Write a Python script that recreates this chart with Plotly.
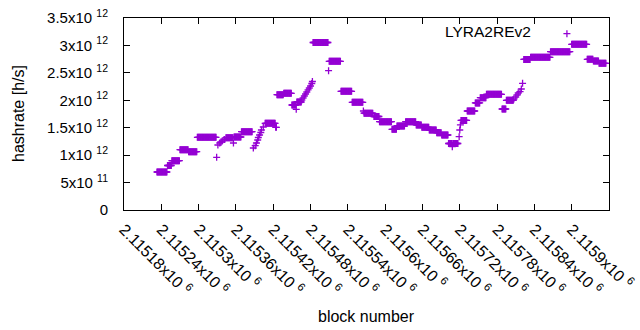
import numpy as np
import plotly.graph_objects as go

# runs of consecutive blocks sharing one hashrate value (value in units of 1e12 h/s)
run_first = [2115233, 2115250, 2115257, 2115270, 2115284, 2115298, 2115329, 2115331, 2115334, 2115336,
             2115338, 2115341, 2115344, 2115356, 2115357, 2115369, 2115388, 2115391, 2115393, 2115395,
             2115396, 2115398, 2115400, 2115401, 2115404, 2115407, 2115424, 2115426, 2115437, 2115450,
             2115457, 2115458, 2115466, 2115468, 2115470, 2115472, 2115474, 2115476, 2115478, 2115480,
             2115482, 2115483, 2115484, 2115509, 2115510, 2115529, 2115547, 2115565, 2115566, 2115582,
             2115591, 2115611, 2115619, 2115633, 2115650, 2115659, 2115671, 2115683, 2115691, 2115702,
             2115708, 2115709, 2115719, 2115720, 2115721, 2115722, 2115732, 2115745, 2115753, 2115763,
             2115788, 2115795, 2115807, 2115810, 2115812, 2115814, 2115817, 2115819, 2115821, 2115823,
             2115834, 2115866, 2115900, 2115925, 2115935, 2115944]
run_last = [2115249, 2115256, 2115269, 2115283, 2115297, 2115328, 2115329, 2115331, 2115334, 2115336,
            2115338, 2115342, 2115355, 2115356, 2115368, 2115386, 2115388, 2115391, 2115393, 2115395,
            2115396, 2115398, 2115400, 2115401, 2115404, 2115423, 2115425, 2115436, 2115449, 2115456,
            2115457, 2115465, 2115466, 2115468, 2115470, 2115472, 2115474, 2115476, 2115478, 2115480,
            2115482, 2115483, 2115508, 2115509, 2115528, 2115546, 2115564, 2115565, 2115580, 2115590,
            2115610, 2115618, 2115631, 2115649, 2115658, 2115670, 2115682, 2115690, 2115701, 2115707,
            2115708, 2115717, 2115719, 2115720, 2115721, 2115731, 2115744, 2115752, 2115762, 2115787,
            2115794, 2115806, 2115807, 2115810, 2115812, 2115814, 2115817, 2115819, 2115821, 2115833,
            2115865, 2115897, 2115924, 2115934, 2115943, 2115955]
run_value = [0.693, 0.811, 0.899, 1.099, 1.063, 1.325, 0.961, 1.185, 1.221, 1.240,
             1.258, 1.285, 1.318, 1.221, 1.331, 1.427, 1.130, 1.172, 1.221, 1.276,
             1.322, 1.367, 1.413, 1.458, 1.513, 1.580, 1.508, 2.102, 2.127, 1.914,
             1.836, 1.969, 2.005, 2.042, 2.078, 2.115, 2.151, 2.188, 2.224, 2.260,
             2.306, 2.342, 3.053, 2.539, 2.711, 2.164, 1.963, 1.805, 1.765, 1.704,
             1.610, 1.471, 1.531, 1.610, 1.550, 1.508, 1.458, 1.409, 1.367, 1.212,
             1.154, 1.212, 1.336, 1.458, 1.550, 1.632, 1.805, 1.951, 2.047, 2.109,
             1.841, 2.000, 2.023, 2.060, 2.096, 2.133, 2.157, 2.206, 2.310, 2.744,
             2.784, 2.886, 3.021, 2.747, 2.716, 2.674]

x_tickvals = [2115180, 2115240, 2115300, 2115360, 2115420, 2115480, 2115540,
              2115600, 2115660, 2115720, 2115780, 2115840, 2115900, 2115960]
x_ticktext = ["2.11518", "2.11524", "2.1153", "2.11536", "2.11542", "2.11548", "2.11554",
              "2.1156", "2.11566", "2.11572", "2.11578", "2.11584", "2.1159", "2.11596"]
y_tickvals = [0, 0.5e12, 1e12, 1.5e12, 2e12, 2.5e12, 3e12, 3.5e12]
y_mant = ["0", "5", "1", "1.5", "2", "2.5", "3", "3.5"]
y_exp = ["", "11", "12", "12", "12", "12", "12", "12"]

blocks, rates = [], []
for f, l, v in zip(run_first, run_last, run_value):
    for b in range(f, l + 1):
        blocks.append(b)
        rates.append(v * 1e12)

COLOR = "#9400d3"
FONT = "Liberation Sans, Arial, sans-serif"
MARKER = dict(symbol="cross-thin", size=5, color=COLOR, line=dict(width=1.3, color=COLOR))

fig = go.Figure()
fig.add_trace(go.Scatter(
    x=blocks, y=rates, mode="markers", name="LYRA2REv2", showlegend=False, marker=MARKER,
))
# key sample (symbol only; title drawn as annotation on its left, gnuplot style)
fig.add_trace(go.Scatter(
    x=[None], y=[None], mode="markers", name=" ", showlegend=True, marker=MARKER,
))

ytext = [m if e == "" else f"{m}x10 <sup>{e}</sup>" for m, e in zip(y_mant, y_exp)]
xtext = [f"{t}x10 <sup>6</sup>" for t in x_ticktext]

axis_common = dict(showline=True, linecolor="black", linewidth=1, mirror="ticks",
                   ticks="inside", ticklen=6, tickcolor="black", showgrid=False, zeroline=False,
                   automargin=False)

fig.update_xaxes(range=[2115180, 2115960], tickmode="array", tickvals=x_tickvals, ticktext=xtext,
                 tickangle=45, ticklabelstandoff=3,
                 tickfont=dict(family=FONT, size=16, color="black"), **axis_common)
fig.update_yaxes(range=[0, 3.5e12], tickmode="array", tickvals=y_tickvals, ticktext=ytext,
                 ticklabelstandoff=12,
                 tickfont=dict(family=FONT, size=15, color="black"), **axis_common)

fig.update_layout(
    width=640, height=330, autosize=False,
    margin=dict(l=124, r=31, t=18, b=120, autoexpand=False),
    paper_bgcolor="white", plot_bgcolor="white",
    font=dict(family=FONT, size=16, color="black"),
    legend=dict(x=0.872, y=0.917, xanchor="left", yanchor="middle", bgcolor="rgba(0,0,0,0)",
                font=dict(size=15), itemwidth=30),
    annotations=[
        dict(text="LYRA2REv2", xref="paper", yref="paper", x=(533 - 124) / 485, y=(210 - 32) / 192,
             xanchor="right", yanchor="middle", showarrow=False, font=dict(size=15.5)),
        dict(text="hashrate [h/s]", xref="paper", yref="paper", x=(18 - 124) / 485, y=0.5,
             xanchor="center", yanchor="middle", textangle=-90, showarrow=False, font=dict(size=16)),
        dict(text="block number", xref="paper", yref="paper", x=0.5, y=(210 - 316) / 192,
             xanchor="center", yanchor="middle", showarrow=False, font=dict(size=16)),
    ],
)

fig.write_html("out.html", config={"displayModeBar": False},
               post_script="document.body.style.margin='0';")
